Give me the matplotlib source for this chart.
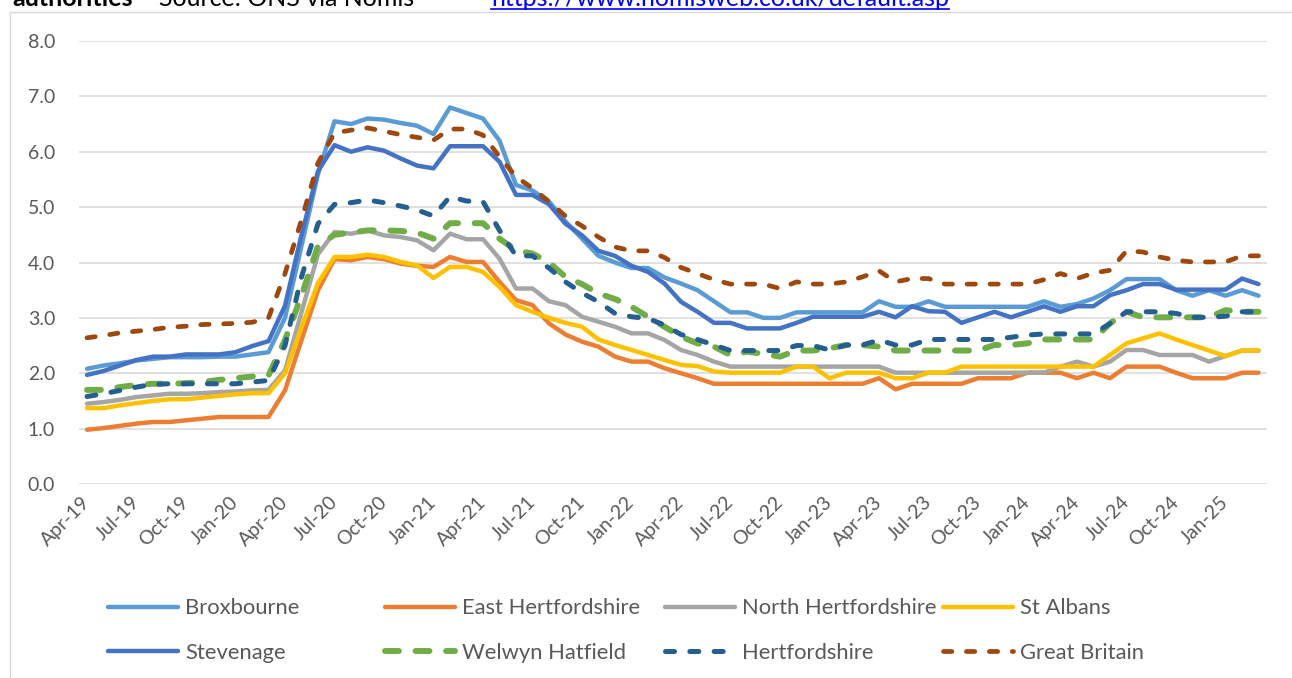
import matplotlib
matplotlib.use("Agg")
import matplotlib.pyplot as plt
from matplotlib.lines import Line2D

plt.rcParams['font.family'] = ['Lato', 'DejaVu Sans']
plt.rcParams['lines.scale_dashes'] = False

# ---------------- data (claimant rate, %) -----------------
tick_labels = ["Apr-19", "Jul-19", "Oct-19", "Jan-20", "Apr-20", "Jul-20", "Oct-20",
               "Jan-21", "Apr-21", "Jul-21", "Oct-21", "Jan-22", "Apr-22", "Jul-22",
               "Oct-22", "Jan-23", "Apr-23", "Jul-23", "Oct-23", "Jan-24", "Apr-24",
               "Jul-24", "Oct-24", "Jan-25"]

broxbourne = [2.08, 2.14, 2.18, 2.23, 2.26, 2.29, 2.29, 2.29, 2.30, 2.30, 2.34, 2.38,
              3.0, 4.3, 5.6,
              6.55, 6.5, 6.6, 6.58, 6.52, 6.47, 6.32, 6.8, 6.7, 6.6, 6.2, 5.4, 5.3, 5.1,
              4.74, 4.43, 4.12, 4.0, 3.9, 3.9, 3.73, 3.62, 3.5, 3.3, 3.1, 3.1, 3.0, 3.0,
              3.1, 3.1, 3.1, 3.1, 3.1, 3.3, 3.2, 3.2, 3.3, 3.2, 3.2, 3.2, 3.2, 3.2,
              3.2, 3.3, 3.2, 3.25, 3.35, 3.5, 3.7, 3.7, 3.7, 3.5, 3.4, 3.5, 3.4, 3.5, 3.4]

east_herts = [0.98, 1.01, 1.05, 1.09, 1.12, 1.12, 1.15, 1.18, 1.21, 1.21, 1.21, 1.21,
              1.69, 2.6, 3.5,
              4.06, 4.04, 4.1, 4.06, 3.98, 3.94, 3.92, 4.1, 4.01, 4.01, 3.65, 3.32, 3.23, 2.9,
              2.7, 2.57, 2.48, 2.3, 2.21, 2.21, 2.09, 2.0, 1.91, 1.81, 1.81, 1.81, 1.81, 1.81,
              1.81, 1.81, 1.81, 1.81, 1.81, 1.91, 1.71, 1.81, 1.81, 1.81, 1.81, 1.91, 1.91, 1.91,
              2.01, 2.01, 2.01, 1.91, 2.01, 1.91, 2.12, 2.12, 2.12, 2.01, 1.91, 1.91, 1.91, 2.01, 2.01]

north_herts = [1.45, 1.48, 1.52, 1.57, 1.60, 1.63, 1.63, 1.64, 1.66, 1.67, 1.69, 1.70,
               2.05, 3.1, 4.15,
               4.55, 4.52, 4.58, 4.49, 4.46, 4.4, 4.22, 4.52, 4.42, 4.42, 4.07, 3.53, 3.53, 3.3,
               3.23, 3.02, 2.93, 2.84, 2.72, 2.72, 2.6, 2.42, 2.33, 2.21, 2.12, 2.12, 2.12, 2.12,
               2.12, 2.12, 2.12, 2.12, 2.12, 2.12, 2.01, 2.01, 2.01, 2.01, 2.01, 2.01, 2.01, 2.01,
               2.01, 2.01, 2.12, 2.21, 2.12, 2.21, 2.42, 2.42, 2.33, 2.33, 2.33, 2.21, 2.31, 2.41, 2.41]

st_albans = [1.37, 1.37, 1.42, 1.46, 1.50, 1.53, 1.53, 1.56, 1.59, 1.62, 1.64, 1.64,
             2.0, 2.83, 3.63,
             4.1, 4.1, 4.14, 4.1, 4.01, 3.95, 3.72, 3.92, 3.92, 3.83, 3.56, 3.23, 3.11, 3.0,
             2.91, 2.84, 2.61, 2.51, 2.42, 2.33, 2.24, 2.15, 2.13, 2.03, 2.01, 2.01, 2.01, 2.01,
             2.12, 2.12, 1.91, 2.01, 2.01, 2.01, 1.91, 1.91, 2.01, 2.01, 2.12, 2.12, 2.12, 2.12,
             2.12, 2.12, 2.12, 2.12, 2.12, 2.33, 2.54, 2.63, 2.72, 2.61, 2.51, 2.41, 2.31, 2.41, 2.41]

stevenage = [1.97, 2.04, 2.14, 2.24, 2.30, 2.30, 2.34, 2.34, 2.34, 2.38, 2.49, 2.58,
             3.22, 4.5, 5.65,
             6.12, 6.0, 6.08, 6.02, 5.88, 5.75, 5.7, 6.1, 6.1, 6.1, 5.82, 5.22, 5.22, 5.05,
             4.7, 4.49, 4.21, 4.12, 3.94, 3.83, 3.62, 3.29, 3.11, 2.91, 2.91, 2.81, 2.81, 2.81,
             2.91, 3.02, 3.02, 3.02, 3.02, 3.11, 3.01, 3.21, 3.12, 3.11, 2.91, 3.01, 3.11, 3.01,
             3.11, 3.21, 3.11, 3.21, 3.21, 3.41, 3.5, 3.61, 3.61, 3.51, 3.51, 3.51, 3.51, 3.71, 3.61]

welwyn_hatfield = [1.70, 1.70, 1.75, 1.79, 1.81, 1.81, 1.82, 1.84, 1.88, 1.91, 1.94, 1.96,
                   2.6, 3.4, 4.3,
                   4.5, 4.54, 4.58, 4.58, 4.57, 4.54, 4.43, 4.71, 4.71, 4.71, 4.43, 4.22, 4.16, 4.0,
                   3.74, 3.61, 3.44, 3.34, 3.2, 3.02, 2.84, 2.66, 2.54, 2.48, 2.33, 2.39, 2.35, 2.3,
                   2.41, 2.41, 2.45, 2.51, 2.51, 2.48, 2.41, 2.41, 2.41, 2.41, 2.41, 2.41, 2.51, 2.51,
                   2.54, 2.61, 2.61, 2.61, 2.61, 2.9, 3.11, 3.01, 3.01, 3.01, 3.01, 3.01, 3.14, 3.11, 3.11]

hertfordshire = [1.58, 1.63, 1.69, 1.75, 1.80, 1.81, 1.81, 1.81, 1.81, 1.81, 1.84, 1.87,
                 2.5, 3.74, 4.7,
                 5.05, 5.08, 5.13, 5.08, 5.02, 4.95, 4.84, 5.19, 5.11, 5.1, 4.58, 4.12, 4.12, 3.9,
                 3.65, 3.45, 3.29, 3.08, 3.02, 2.99, 2.87, 2.7, 2.61, 2.51, 2.41, 2.41, 2.41, 2.41,
                 2.5, 2.5, 2.42, 2.51, 2.51, 2.6, 2.51, 2.51, 2.61, 2.61, 2.61, 2.61, 2.61, 2.65,
                 2.69, 2.71, 2.71, 2.71, 2.71, 2.9, 3.11, 3.11, 3.11, 3.08, 3.01, 3.01, 3.03, 3.11, 3.11]

great_britain = [2.64, 2.68, 2.73, 2.76, 2.79, 2.83, 2.85, 2.88, 2.89, 2.90, 2.92, 3.0,
                 3.8, 4.77, 5.8,
                 6.34, 6.39, 6.43, 6.37, 6.31, 6.26, 6.21, 6.41, 6.41, 6.3, 5.91, 5.55, 5.34, 5.1,
                 4.84, 4.66, 4.46, 4.28, 4.21, 4.21, 4.09, 3.91, 3.8, 3.69, 3.61, 3.61, 3.61, 3.53,
                 3.65, 3.61, 3.61, 3.65, 3.74, 3.85, 3.65, 3.71, 3.71, 3.61, 3.61, 3.61, 3.61, 3.61,
                 3.61, 3.69, 3.8, 3.71, 3.81, 3.86, 4.21, 4.19, 4.1, 4.04, 4.01, 4.01, 4.01, 4.12, 4.12]

series_names = ["Broxbourne", "East Hertfordshire", "North Hertfordshire", "St Albans",
                "Stevenage", "Welwyn Hatfield", "Hertfordshire", "Great Britain"]
series_values = [broxbourne, east_herts, north_herts, st_albans,
                 stevenage, welwyn_hatfield, hertfordshire, great_britain]

# ---------------- styles -----------------
colors = ["#5B9BD5", "#ED7D31", "#A5A5A5", "#FFC000",
          "#4472C4", "#70AD47", "#255E91", "#9E480E"]
widths = [3.2, 3.2, 3.2, 3.2, 3.2, 4.3, 3.6, 3.4]
dash_patterns = [None, None, None, None, None, (10, 12), (6.5, 11), (6, 10.5)]

W, H = 1292, 678
fig = plt.figure(figsize=(W / 100, H / 100), dpi=100)

def fx(px):
    return px / W

def fy(py):
    return 1 - py / H

ax = fig.add_axes([fx(78.75), fy(484), fx(1266.75) - fx(78.75), fy(41) - fy(484)])

handles = []
for name, vals, c, lw, dp in zip(series_names, series_values, colors, widths, dash_patterns):
    x = list(range(len(vals)))
    if dp is None:
        ln, = ax.plot(x, vals, color=c, lw=lw, solid_capstyle='round',
                      solid_joinstyle='round', label=name)
    else:
        ln, = ax.plot(x, vals, color=c, lw=lw, dashes=dp, dash_capstyle='round',
                      dash_joinstyle='round', label=name)
    handles.append(ln)

ax.set_xlim(-0.5, len(broxbourne) - 0.5)
ax.set_ylim(0, 8)
ax.set_yticks([0, 1, 2, 3, 4, 5, 6, 7, 8])
ax.set_yticklabels([f"{v:.1f}" for v in range(9)])
ax.set_xticks(list(range(0, 3 * len(tick_labels), 3)))
ax.set_xticklabels(tick_labels, rotation=45, ha='right', va='center',
                   rotation_mode='anchor')
ax.tick_params(axis='both', length=0, labelsize=14, colors='#595959')
ax.tick_params(axis='y', pad=17)
ax.tick_params(axis='x', pad=11)
for s in ax.spines.values():
    s.set_visible(False)
ax.yaxis.grid(True, color='#D9D9D9', lw=1.1)
ax.set_axisbelow(True)

# chart area border (partially visible)
fig.add_artist(Line2D([fx(9.5), fx(9.5)], [fy(12), 0], transform=fig.transFigure,
                      color='#D9D9D9', lw=1))
fig.add_artist(Line2D([fx(9.5), 1], [fy(12), fy(12)], transform=fig.transFigure,
                      color='#D9D9D9', lw=1))

# legend: four columns, two rows each
col_x = [108, 385, 665, 943]
for k, xpx in enumerate(col_x):
    hs = [handles[k], handles[k + 4]]
    leg = fig.legend(handles=hs, labels=[h.get_label() for h in hs],
                     loc='center left', bbox_to_anchor=(fx(xpx), fy(630.5)),
                     frameon=False, fontsize=15.8, handlelength=3.2,
                     handletextpad=0.33, borderpad=0, borderaxespad=0,
                     labelspacing=1.12)
    for t in leg.get_texts():
        t.set_color('#595959')

# top line of text, clipped by the picture edge as in the source
t1 = fig.text(fx(12), fy(6.5), "authorities", fontsize=18, fontweight='bold',
              va='baseline', ha='left', color='black')
t2 = fig.text(fx(137), fy(6.5), " - Source: ONS via Nomis - ", fontsize=18,
              va='baseline', ha='left', color='black')
t3 = fig.text(fx(491), fy(6.5), "https://www.nomisweb.co.uk/default.asp", fontsize=18,
              va='baseline', ha='left', color='#0000FF')
fig.canvas.draw()
bb = t3.get_window_extent()
fig.add_artist(Line2D([bb.x0 / W, bb.x1 / W], [fy(8.5), fy(8.5)], transform=fig.transFigure,
                      color='#0000FF', lw=1.2))

fig.savefig("out.png", dpi=100, facecolor='white')
